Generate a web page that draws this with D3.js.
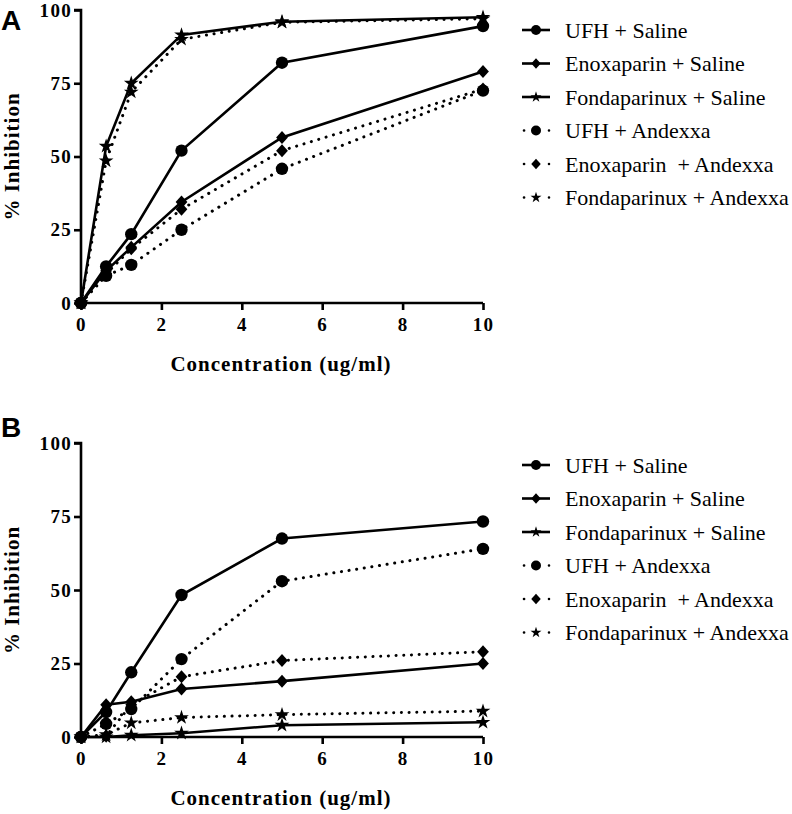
<!DOCTYPE html>
<html><head><meta charset="utf-8">
<script src="https://cdn.jsdelivr.net/npm/d3@7"></script>
<style>
body{margin:0;background:#fff;}
svg{display:block;}
.serif{font-family:"Liberation Serif","Times New Roman",Times,"DejaVu Serif","Noto Serif",serif;}
.sans{font-family:"Liberation Sans",Arial,Helvetica,sans-serif;}
</style></head>
<body>
<svg id="chart" width="792" height="814"></svg>
<script>
// ---- data ----
const concentrations = [0, 0.625, 1.25, 2.5, 5, 10];
const seriesNames = ["UFH + Saline", "Enoxaparin + Saline", "Fondaparinux + Saline",
                     "UFH + Andexxa", "Enoxaparin  + Andexxa", "Fondaparinux + Andexxa"];
const seriesSymbols = ["circle", "diamond", "star", "circle", "diamond", "star"];
const seriesDotted = [false, false, false, true, true, true];

// Panel A
const panelA_ufhSaline   = [0, 12.5, 23.5, 52, 82, 94.5];
const panelA_enoxSaline  = [0, 11, 19, 34.5, 56.5, 79];
const panelA_fondaSaline = [0, 53.5, 75, 91.5, 96, 97.5];
const panelA_ufhAndexxa  = [0, 9.3, 13, 25, 45.8, 72.5];
const panelA_enoxAndexxa = [0, 10, 18.5, 32, 52, 73];
const panelA_fondaAndexxa= [0, 48.5, 72, 90, 95.8, 97];

// Panel B
const panelB_ufhSaline   = [0, 8.5, 22, 48.3, 67.5, 73.3];
const panelB_enoxSaline  = [0, 11, 12, 16.3, 19, 25];
const panelB_fondaSaline = [0, 0, 0.6, 1.3, 4, 5];
const panelB_ufhAndexxa  = [0, 4.5, 9.5, 26.5, 53, 64];
const panelB_enoxAndexxa = [0, 0.3, 11, 20.5, 26, 29];
const panelB_fondaAndexxa= [0, 0.8, 4.8, 6.6, 7.6, 8.8];

const yTicks = [0, 25, 50, 75, 100];
const xTicks = [0, 2, 4, 6, 8, 10];
const xTitle = "Concentration (ug/ml)";
const yTitle = "% Inhibition";

const panels = [
  {label: "A", series: [panelA_ufhSaline, panelA_enoxSaline, panelA_fondaSaline, panelA_ufhAndexxa, panelA_enoxAndexxa, panelA_fondaAndexxa],
   top: 10, bottom: 303, legendTop: 30},
  {label: "B", series: [panelB_ufhSaline, panelB_enoxSaline, panelB_fondaSaline, panelB_ufhAndexxa, panelB_enoxAndexxa, panelB_fondaAndexxa],
   top: 443, bottom: 737, legendTop: 465}
];

const svg = d3.select("#chart");

function symbolPath(type, s) {
  if (type === "circle") return d3.symbol(d3.symbolCircle, Math.PI * s * s)();
  if (type === "diamond") {
    const w = s * 0.95, h = s * 1.05;
    return `M0,${-h}L${w},0L0,${h}L${-w},0Z`;
  }
  return d3.symbol(d3.symbolStar, (s * 1.25) * (s * 1.25) / 0.8908)();
}

panels.forEach(p => {
  const x = d3.scaleLinear().domain([0, 10]).range([81, 483]);
  const y = d3.scaleLinear().domain([0, 100]).range([p.bottom, p.top]);
  const g = svg.append("g");

  const yAxis = g.append("g").attr("transform", `translate(${x(0)},0)`)
    .call(d3.axisLeft(y).tickValues(yTicks).tickSize(7).tickPadding(2));
  const xAxis = g.append("g").attr("transform", `translate(0,${y(0)})`)
    .call(d3.axisBottom(x).tickValues(xTicks).tickSize(7).tickPadding(8));
  [yAxis, xAxis].forEach(a => {
    a.attr("font-family", null).attr("font-size", null);
    a.select(".domain").attr("stroke", "#000").attr("stroke-width", 2.6);
    a.selectAll(".tick line").attr("stroke", "#000").attr("stroke-width", 2.6);
    a.selectAll(".tick text").attr("fill", "#000").attr("class", "serif")
      .attr("font-weight", "bold").attr("font-size", "19px").attr("letter-spacing", "1.3px");
  });
  yAxis.select(".domain").attr("d", `M-7,${y(100)}H0V${y(0)}`);
  xAxis.select(".domain").attr("d", `M${x(0)},0H${x(10)}`);
  xAxis.selectAll(".tick text").attr("dy", "0.71em");

  g.append("text").attr("class", "serif").attr("x", 281).attr("y", y(0) + 68)
    .attr("text-anchor", "middle").text(xTitle)
    .attr("font-weight", "bold").attr("font-size", "21px").attr("letter-spacing", "1px");
  g.append("text").attr("class", "serif")
    .attr("transform", `translate(19,${(y(0) + y(100)) / 2}) rotate(-90)`)
    .attr("text-anchor", "middle").text(yTitle)
    .attr("font-weight", "bold").attr("font-size", "21px").attr("letter-spacing", "1px");

  g.append("text").attr("class", "sans").attr("x", 1).attr("y", p.top + (p.label === "A" ? 20 : -6))
    .text(p.label).attr("font-weight", "bold").attr("font-size", "28px");

  const order = [3, 4, 5, 0, 1, 2];
  const line = d3.line().x((d, i) => x(concentrations[i])).y(d => y(d));
  order.forEach(si => {
    const vals = p.series[si];
    g.append("path").datum(vals).attr("d", line)
      .attr("fill", "none").attr("stroke", "#000")
      .attr("stroke-width", seriesDotted[si] ? 3 : 2.6)
      .attr("stroke-linecap", seriesDotted[si] ? "round" : "butt")
      .attr("stroke-dasharray", seriesDotted[si] ? "0.1 7.6" : null);
    g.selectAll(null).data(vals).enter().append("path")
      .attr("transform", (d, i) => `translate(${x(concentrations[i])},${y(d)})`)
      .attr("d", symbolPath(seriesSymbols[si], 6.2))
      .attr("fill", "#000");
  });

  const lg = g.append("g");
  seriesNames.forEach((name, si) => {
    const ly = p.legendTop + si * 33.5;
    const row = lg.append("g").attr("transform", `translate(0,${ly})`);
    if (seriesDotted[si]) {
      row.append("line").attr("x1", 524).attr("x2", 549).attr("y1", 0).attr("y2", 0)
        .attr("stroke", "#000").attr("stroke-width", 2.6)
        .attr("stroke-linecap", "round").attr("stroke-dasharray", "0.1 24.9");
    } else {
      row.append("line").attr("x1", 522).attr("x2", 550).attr("y1", 0).attr("y2", 0)
        .attr("stroke", "#000").attr("stroke-width", 2.6);
    }
    row.append("path").attr("transform", "translate(536,0)")
      .attr("d", symbolPath(seriesSymbols[si], seriesSymbols[si] === "star" ? 4.6 : 5))
      .attr("fill", "#000");
    row.append("text").attr("class", "serif").attr("x", 565).attr("y", 0).attr("dy", "0.35em")
      .text(name).attr("font-size", "22px").style("white-space", "pre");
  });
});
</script>
</body></html>
